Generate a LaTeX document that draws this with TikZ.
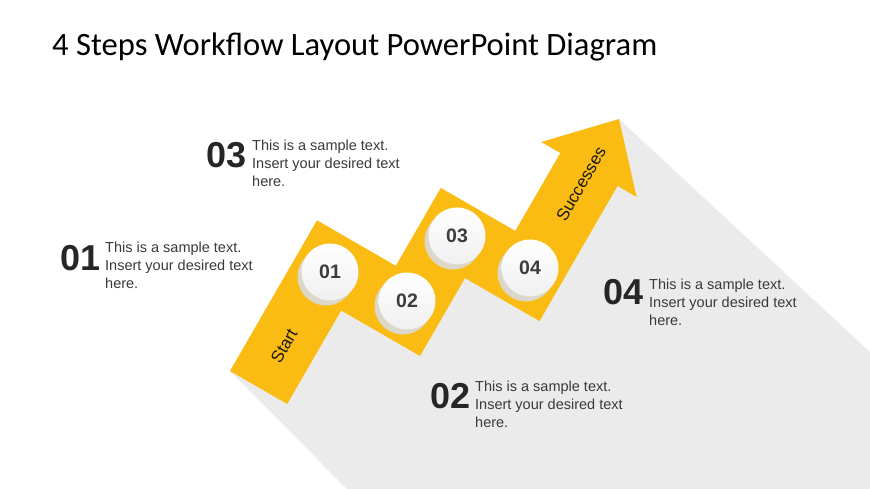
\documentclass[tikz,border=0pt]{standalone}
\usepackage{fontspec}
\setmainfont{Liberation Sans}
\newfontfamily\titlefont{Carlito}
\usetikzlibrary{positioning}

\definecolor{arrowgold}{RGB}{250,188,18}
\definecolor{castgray}{RGB}{235,235,235}
\definecolor{chipshade}{RGB}{220,215,200}
\definecolor{numdark}{RGB}{38,38,38}
\definecolor{notegray}{RGB}{58,58,58}

\begin{document}
\begin{tikzpicture}[
    x=1pt, y=-1pt,
    stepnum/.style={font=\fontsize{36}{36}\selectfont\bfseries, text=numdark, inner sep=0, anchor=base west},
    stepnote/.style={font=\fontsize{14.5}{17.8}\selectfont, text=notegray, align=left, inner sep=0, anchor=north west},
    chip/.style={circle, minimum size=57pt, inner sep=0, top color=white, bottom color=black!6, font=\fontsize{19.5}{19.5}\selectfont\bfseries, text=numdark!90},
    chipshadow/.style={circle, minimum size=57pt, inner sep=0, fill=chipshade},
    arrowlabel/.style={font=\fontsize{17}{17}\selectfont, text=black!90, rotate=60},
]

% Canvas
\fill[white] (0,0) rectangle (870,489);
\useasboundingbox (0,0) rectangle (870,489);

% Title
\node[anchor=base west, inner sep=0, font=\titlefont\fontsize{32.6}{32.6}\selectfont] (title) at (52,56) {4 Steps Workflow Layout PowerPoint Diagram};

% Long shadow behind the arrow
\fill[castgray] (230,371) -- (395.8,265.8) -- (515.3,230.9) -- (619,119) -- (870,352) -- (870,489) -- (347,489) -- cycle;

% Zigzag arrow
\fill[arrowgold] (230,371) -- (317,220.3) -- (395.8,265.8) -- (440.8,187.9) -- (515.3,230.9)
    -- (560.3,153) -- (541.2,142) -- (619,119) -- (636.6,197) -- (617.5,186)
    -- (539.5,321.1) -- (465,278.1) -- (420,356) -- (341.2,310.5) -- (287.2,404) -- cycle;

\node[arrowlabel] (start) at (284,346) {Start};
\node[arrowlabel] (successes) at (581,184) {Successes};

% Step chips
\foreach \lbl/\x/\y in {01/330/272, 02/407/301, 03/457/236, 04/530/268} {
    \node[chipshadow] (shade\lbl) at (\x-4,\y+5) {};
    \node[chip] (chip\lbl) at (\x,\y) {\lbl};
}

% Step notes
\foreach \lbl/\nx/\ny/\tx/\ty in {01/60/270/105/242, 03/206/168/252/140, 04/603/304/649/279, 02/430/408/475/381} {
    \node[stepnum] (num\lbl) at (\nx,\ny) {\lbl};
    \node[stepnote] (note\lbl) at (\tx,\ty) {This is a sample text.\\Insert your desired text\\here.};
}

\end{tikzpicture}
\end{document}
